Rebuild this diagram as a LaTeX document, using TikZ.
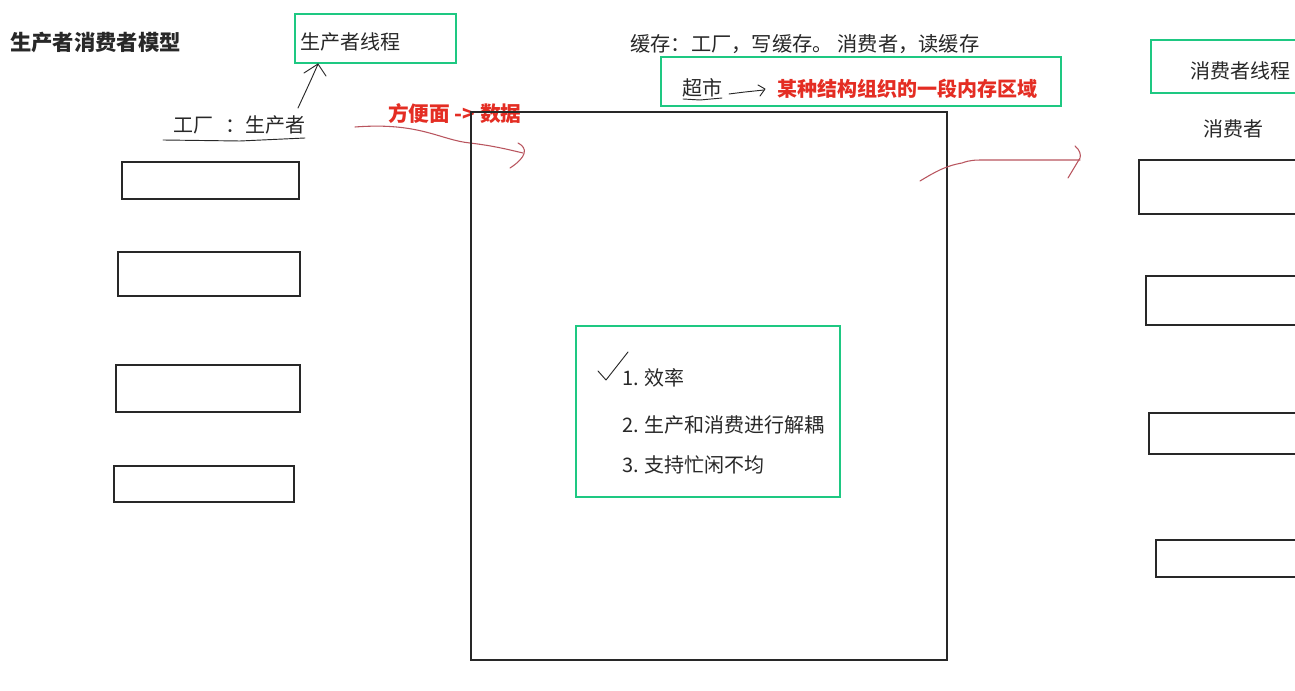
\documentclass[tikz,border=0pt]{standalone}
\usepackage{fontspec}
\setmainfont{Noto Sans CJK SC}
\usetikzlibrary{arrows.meta}
\definecolor{grn}{RGB}{30,200,130}
\definecolor{redtxt}{RGB}{228,45,35}
\definecolor{redline}{RGB}{185,85,95}
\definecolor{ink}{RGB}{40,40,40}
\begin{document}
\begin{tikzpicture}[x=0.75pt,y=-0.75pt,
  txt/.style={anchor=west,inner sep=0pt,text=ink,font=\fontsize{15}{18}\selectfont},
  btxt/.style={anchor=west,inner sep=0pt,font=\fontsize{15}{18}\selectfont\bfseries},
  gbox/.style={draw=grn,line width=2.2pt},
  slot/.style={draw=ink,line width=0.8pt},
  pen/.style={draw=ink,line width=0.7pt,line cap=round,line join=round},
  rpen/.style={draw=redline,line width=0.8pt,line cap=round,line join=round}]
\useasboundingbox (0,0) rectangle (1295,691);
\fill[white] (0,0) rectangle (1295,691);

% title
\node[btxt,text=ink,font=\fontsize{16}{18}\selectfont\bfseries] (title) at (10,42) {生产者消费者模型};

% producer thread box
\draw[gbox] (295,14) rectangle (456,63);
\coordinate (pbot) at (318,64);
\node[txt] (ptxt) at (300,42) {生产者线程};

% factory : producer
\node[txt] (fac) at (173,125) {工厂\hspace{0.6em}：生产者};
\draw[pen] (163,140) -- (240,141) -- (305,138);
\coordinate (fstart) at (298,108);
\draw[pen] (fstart) .. controls (304,95) and (312,78) .. (pbot);
\draw[pen] (304,73) -- (pbot) -- (326,76);

% left slots
\draw[slot] (122,162) rectangle (299,199);
\draw[slot] (118,252) rectangle (300,296);
\draw[slot] (116,365) rectangle (300,412);
\draw[slot] (114,466) rectangle (294,502);

% red label and curve into cache
\node[btxt,text=redtxt,font=\fontsize{15.5}{18}\selectfont\bfseries] (noodle) at (388,114) {方便面 -> 数据};
\coordinate (c1) at (355,127);
\coordinate (c2) at (523,153);
\draw[rpen] (c1) .. controls (420,122) and (440,140) .. (470,143)
  .. controls (495,146) and (510,150) .. (c2);
\draw[rpen] (518,143) .. controls (528,148) and (527,157) .. (510,168);

% cache box
\draw[slot] (471,112) rectangle (947,660);

% cache caption
\node[txt,font=\fontsize{15.2}{18}\selectfont] (cap) at (630,44) {缓存：工厂，写缓存。 消费者，读缓存};
\draw[gbox] (661,57) rectangle (1061,106);
\node[txt] (mkt) at (682,88) {超市};
\draw[pen] (683,99) -- (700,100) -- (722,98);
\coordinate (m1) at (729,94);
\coordinate (m2) at (764,90);
\draw[pen] (m1) -- (745,92) -- (m2);
\draw[pen] (758,85) -- (765,89) -- (760,96);
\node[btxt,text=redtxt] (mem) at (777,89) {某种结构组织的一段内存区域};

% red curve out to consumers
\coordinate (o1) at (920,181);
\coordinate (o2) at (1080,160);
\draw[rpen] (o1) .. controls (935,172) and (945,166) .. (962,163)
  .. controls (970,160) and (975,160) .. (985,160) -- (o2);
\draw[rpen] (1075,146) .. controls (1080,150) and (1081,155) .. (1080,158) -- (1068,178);

% consumer thread
\draw[gbox] (1151,40) rectangle (1300,93);
\node[txt] (ctxt) at (1190,71) {消费者线程};
\node[txt] (cons) at (1203,129) {消费者};

% right slots
\draw[slot] (1300,160) -- (1139,160) -- (1139,214) -- (1300,214);
\draw[slot] (1300,276) -- (1146,276) -- (1146,325) -- (1300,325);
\draw[slot] (1300,413) -- (1149,413) -- (1149,454) -- (1300,454);
\draw[slot] (1300,540) -- (1156,540) -- (1156,577) -- (1300,577);

% inner list
\draw[gbox] (576,326) rectangle (840,497);
\node[txt] (i1) at (622,378) {1. 效率};
\node[txt] (i2) at (622,425) {2. 生产和消费进行解耦};
\node[txt] (i3) at (622,465) {3. 支持忙闲不均};
\draw[pen] (598,371) -- (606,380) -- (628,352);
\end{tikzpicture}
\end{document}
